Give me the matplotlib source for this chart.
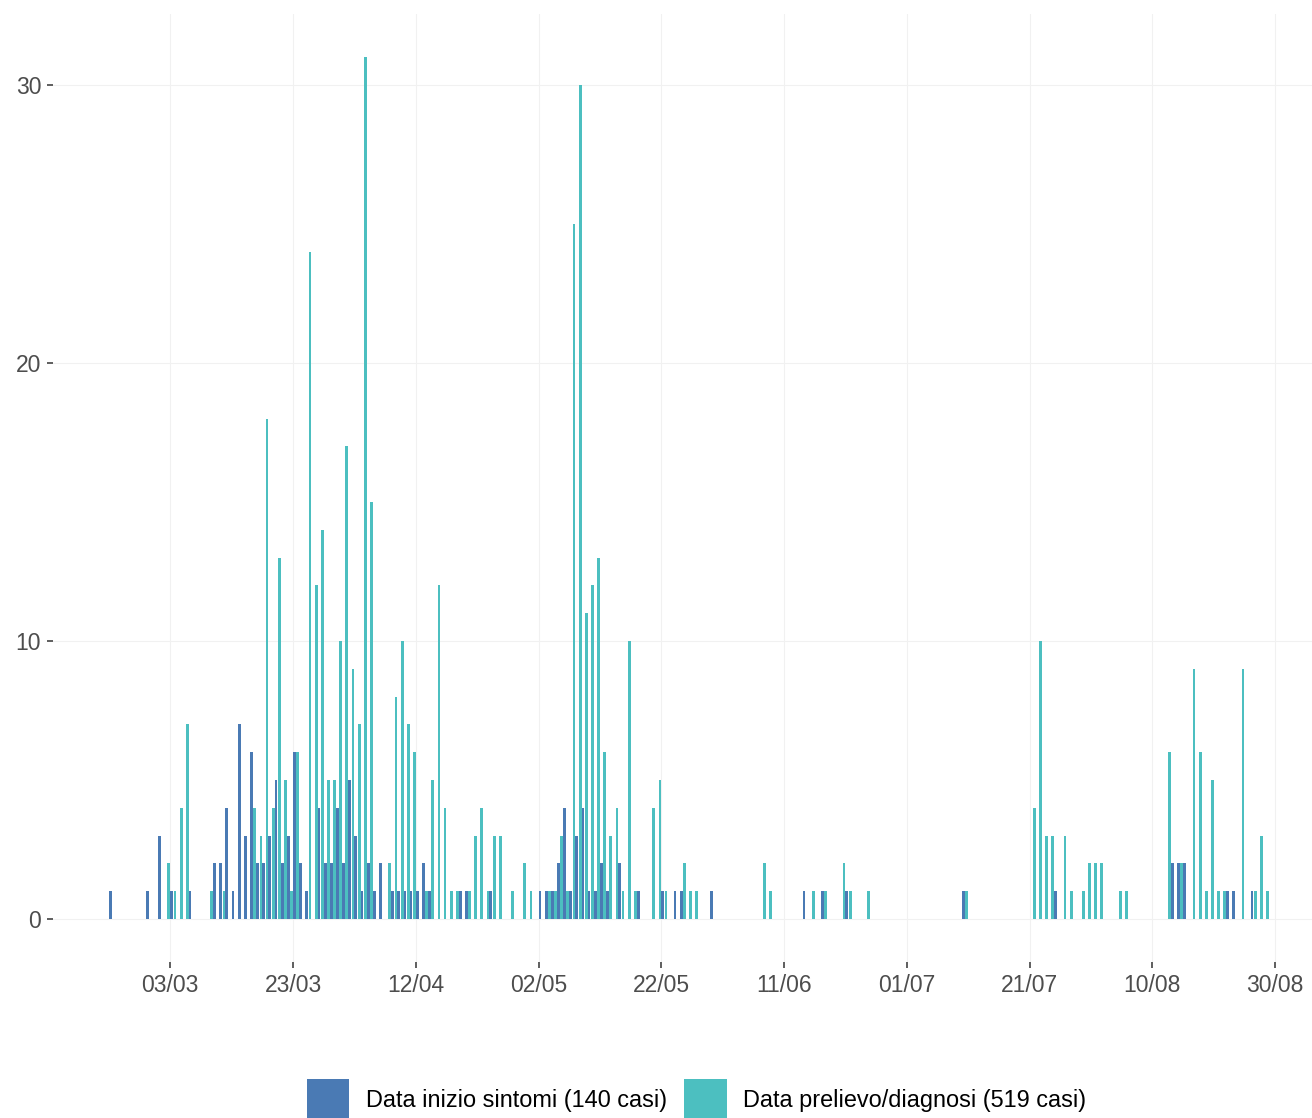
import pandas as pd
import matplotlib
matplotlib.use("Agg")
import matplotlib.pyplot as plt
import matplotlib.dates as mdates
from matplotlib.patches import Patch

plt.rcParams['font.family'] = ['Liberation Sans', 'DejaVu Sans']

# giorno zero = 03/03/2020
GIORNO_ZERO = pd.Timestamp('2020-03-03')

# Data inizio sintomi: giorni dal 03/03 e casi
sintomi_giorni = [-10, -4, -2, 0, 3, 7, 8, 9, 10, 11, 12, 13, 14, 15, 16, 17, 18, 19, 20, 21,
                  22, 24, 25, 26, 27, 28, 29, 30, 31, 32, 33, 34, 36, 37, 38, 39, 40, 41, 42, 47,
                  48, 52, 60, 61, 62, 63, 64, 65, 66, 67, 68, 69, 70, 71, 73, 76, 80, 82, 83, 88,
                  103, 106, 110, 129, 144, 163, 164, 165, 172, 173, 176]
sintomi_casi = [1, 1, 3, 1, 1, 2, 2, 4, 1, 7, 3, 6, 2, 2, 3, 5, 2, 3, 6, 2,
                1, 4, 2, 2, 4, 2, 5, 3, 1, 2, 1, 2, 1, 1, 1, 1, 1, 2, 1, 1,
                1, 1, 1, 1, 1, 2, 4, 1, 3, 4, 1, 1, 2, 1, 2, 1, 1, 1, 1, 1,
                1, 1, 1, 1, 1, 2, 2, 2, 1, 1, 1]

# Data prelievo/diagnosi: giorni dal 03/03 e casi
prelievo_giorni = [0, 1, 2, 3, 7, 9, 14, 15, 16, 17, 18, 19, 20, 21, 23, 24, 25, 26, 27, 28,
                   29, 30, 31, 32, 33, 36, 37, 38, 39, 40, 42, 43, 44, 45, 46, 47, 49, 50, 51, 52,
                   53, 54, 56, 58, 59, 62, 63, 64, 65, 66, 67, 68, 69, 70, 71, 72, 73, 74, 75, 76,
                   79, 80, 81, 84, 85, 86, 97, 98, 105, 107, 110, 111, 114, 130, 141, 142, 143, 144, 146, 147,
                   149, 150, 151, 152, 155, 156, 163, 165, 167, 168, 169, 170, 171, 172, 175, 177, 178, 179]
prelievo_casi = [2, 1, 4, 7, 1, 1, 4, 3, 18, 4, 13, 5, 1, 6, 24, 12, 14, 5, 5, 10,
                 17, 9, 7, 31, 15, 2, 8, 10, 7, 6, 1, 5, 12, 4, 1, 1, 1, 3, 4, 1,
                 3, 3, 1, 2, 1, 1, 1, 3, 1, 25, 30, 11, 12, 13, 6, 3, 4, 1, 10, 1,
                 4, 5, 1, 2, 1, 1, 2, 1, 1, 1, 2, 1, 1, 1, 4, 10, 3, 3, 3, 1,
                 1, 2, 2, 2, 1, 1, 6, 2, 9, 6, 1, 5, 1, 1, 9, 1, 3, 1]

tick_giorni = [0, 20, 40, 60, 80, 100, 120, 140, 160, 180]
tick_y = [0, 10, 20, 30]

nome_sintomi = 'Data inizio sintomi (140 casi)'
nome_prelievo = 'Data prelievo/diagnosi (519 casi)'

BLU = '#4A7AB4'
VERDE = '#4CBFC0'
GRIGIO_GRIGLIA = '#F1F1F1'


def to_num(giorni):
    return mdates.date2num(GIORNO_ZERO + pd.to_timedelta(giorni, unit='D'))


fig = plt.figure(figsize=(13.12, 11.18), dpi=100)
ax = fig.add_axes([0.0404, 0.1395, 0.9596, 0.848])

larghezza = 0.46
ax.bar(to_num(prelievo_giorni) - larghezza / 2, prelievo_casi, width=larghezza,
       color=VERDE, linewidth=0, zorder=3)
ax.bar(to_num(sintomi_giorni) + larghezza / 2, sintomi_casi, width=larghezza,
       color=BLU, linewidth=0, zorder=3)

ax.set_xlim(to_num([-19.1])[0], to_num([186])[0])
ax.set_ylim(-1.55, 32.55)

tick_pos = to_num(tick_giorni)
ax.set_xticks(tick_pos)
ax.set_xticklabels([(GIORNO_ZERO + pd.Timedelta(days=g)).strftime('%d/%m') for g in tick_giorni])
ax.set_yticks(tick_y)

for s in ax.spines.values():
    s.set_visible(False)
ax.grid(True, color=GRIGIO_GRIGLIA, linewidth=0.8, zorder=0)
ax.set_axisbelow(True)
ax.tick_params(axis='both', length=4.5, width=1.1, color='#333333',
               labelsize=16.5, labelcolor='#4D4D4D', pad=4)

# legenda in basso
maniglie = [Patch(facecolor=BLU, edgecolor='none', label=nome_sintomi),
            Patch(facecolor=VERDE, edgecolor='none', label=nome_prelievo)]
fig.legend(handles=maniglie, loc='center', bbox_to_anchor=(0.531, 1 - 1100 / 1118),
           ncol=2, frameon=False, fontsize=16.9, handlelength=1.8, handleheight=2.4,
           handletextpad=0.7, columnspacing=0.75, borderaxespad=0)

fig.savefig('out.png', dpi=100)
